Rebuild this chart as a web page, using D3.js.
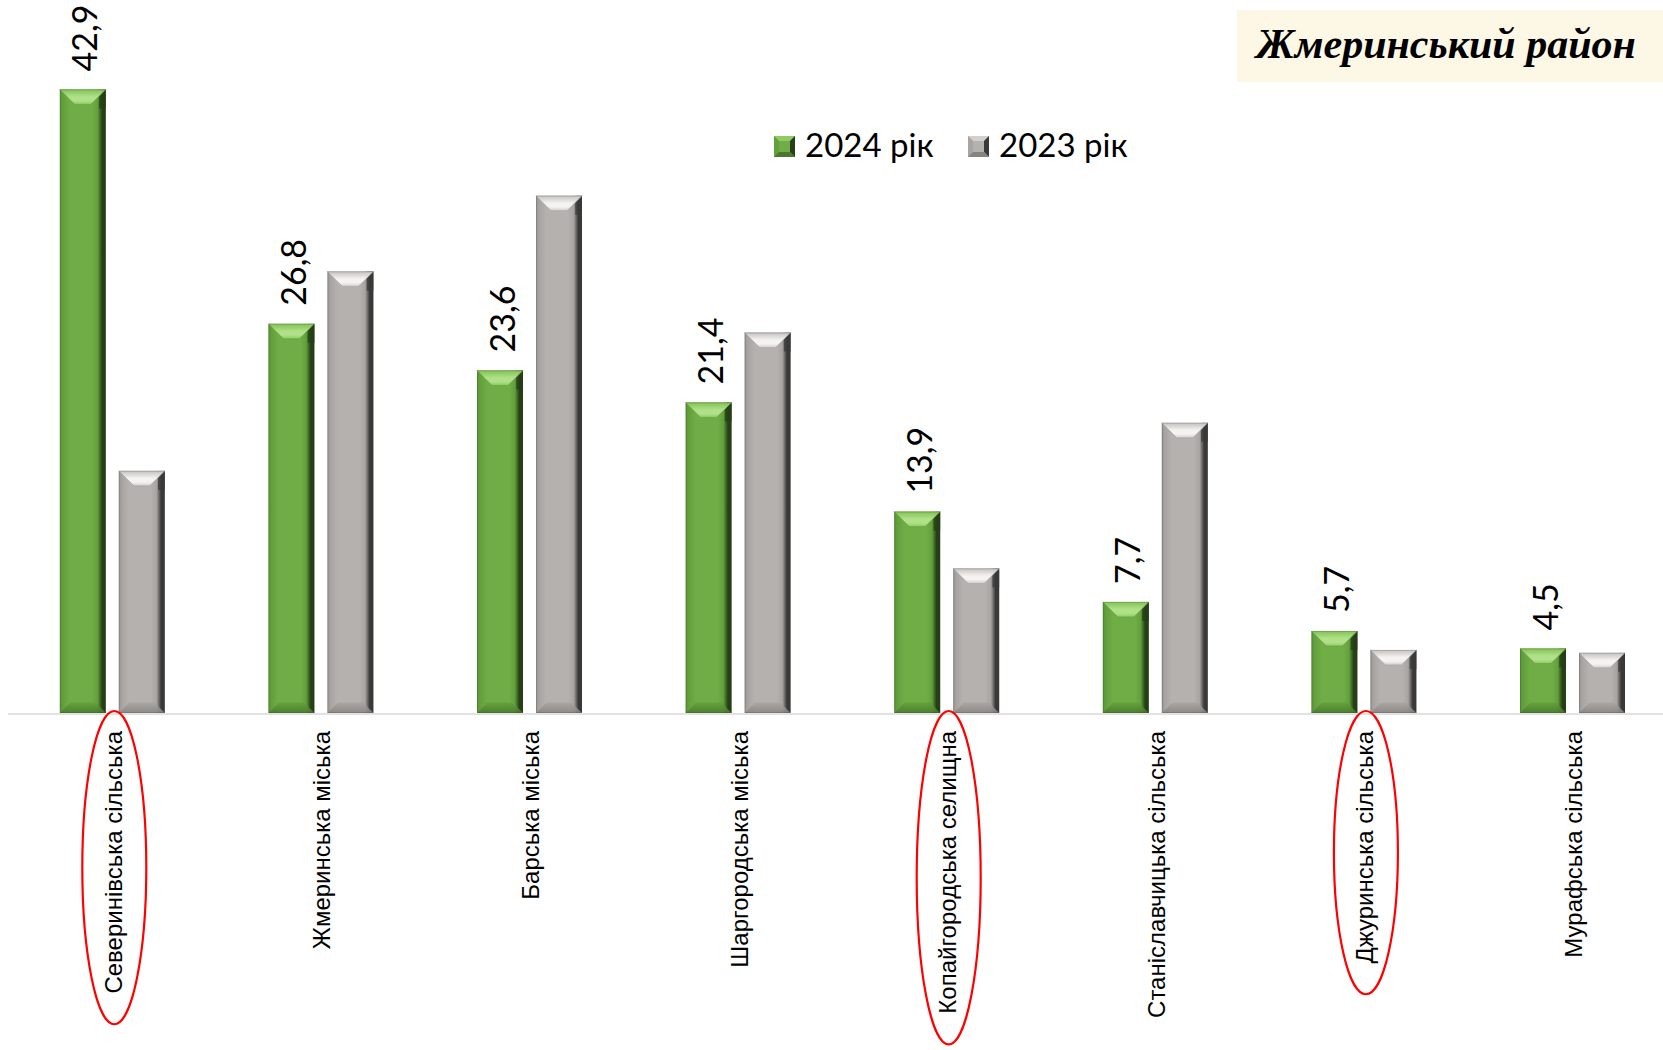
<!DOCTYPE html>
<html lang="uk">
<head>
<meta charset="utf-8">
<title>Жмеринський район</title>
<script src="https://cdn.jsdelivr.net/npm/d3@7"></script>
<style>
  html, body { margin: 0; padding: 0; background: #ffffff; }
  svg { display: block; }
</style>
</head>
<body>
<div id="chart"></div>
<script>
// Громади Жмеринського району
const categories = [
  "Северинівська сільська",
  "Жмеринська міська",
  "Барська міська",
  "Шаргородська міська",
  "Копайгородська селищна",
  "Станіславчицька сільська",
  "Джуринська сільська",
  "Мурафська сільська"
];
const values2024 = [42.9, 26.8, 23.6, 21.4, 13.9, 7.7, 5.7, 4.5];
const values2023 = [16.7, 30.4, 35.6, 26.2, 10.0, 20.0, 4.4, 4.2];
const seriesNames = ["2024 рік", "2023 рік"];
const highlighted = ["Северинівська сільська", "Копайгородська селищна", "Джуринська сільська"];
const chartTitle = "Жмеринський район";

const W = 1663, H = 1050;
const baseY = 714;

const svg = d3.select("#chart").append("svg")
  .attr("width", W).attr("height", H)
  .attr("viewBox", `0 0 ${W} ${H}`);

svg.append("rect").attr("width", W).attr("height", H).attr("fill", "#ffffff");

// Scales
const step = 208.6;
const x0 = d3.scaleBand().domain(categories).range([8, 8 + step * categories.length]).padding(0);
const groupW = 105;
const x1 = d3.scaleBand().domain(seriesNames)
  .range([(step - groupW) / 2, (step + groupW) / 2])
  .paddingInner(0.22).paddingOuter(0);
const y = d3.scaleLinear().domain([0, 45]).range([baseY, baseY - 45 * 14.56]);

// Colour schemes for the bevelled bars
const palette = {
  "2024 рік": { id: "g", edgeL: "#5a9136", base: "#70ad47", edgeR: "#263f17", mid: "#62a03c",
                topA: "#82c056", topHi: "#b0e189", topB: "#8fcb64", bottom: "#4a772e" },
  "2023 рік": { id: "s", edgeL: "#989492", base: "#b5b1af", edgeR: "#3a3938", mid: "#a8a4a2",
                topA: "#c4c1bf", topHi: "#f4f3f2", topB: "#d2cfcd", bottom: "#878381" }
};

const defs = svg.append("defs");
Object.values(palette).forEach(p => {
  const face = defs.append("linearGradient").attr("id", "face-" + p.id)
    .attr("x1", 0).attr("y1", 0).attr("x2", 1).attr("y2", 0);
  [[0, p.edgeL], [0.07, p.mid], [0.22, p.base], [0.7, p.base], [0.82, p.mid], [0.92, p.edgeR], [1, p.edgeR]]
    .forEach(([o, c]) => face.append("stop").attr("offset", o).attr("stop-color", c));

  const top = defs.append("linearGradient").attr("id", "top-" + p.id)
    .attr("x1", 0).attr("y1", 0).attr("x2", 0).attr("y2", 1);
  [[0, p.topA], [0.5, p.topHi], [0.75, p.topHi], [1, p.topB]]
    .forEach(([o, c]) => top.append("stop").attr("offset", o).attr("stop-color", c));

  const bot = defs.append("linearGradient").attr("id", "bot-" + p.id)
    .attr("x1", 0).attr("y1", 0).attr("x2", 0).attr("y2", 1);
  [[0, p.mid], [1, p.bottom]]
    .forEach(([o, c]) => bot.append("stop").attr("offset", o).attr("stop-color", c));
});

// Axis line
svg.append("line")
  .attr("x1", 8).attr("x2", W).attr("y1", baseY).attr("y2", baseY)
  .attr("stroke", "#d9d9d9").attr("stroke-width", 1.5);

// Bars
const rows = categories.map((c, i) => ({
  cat: c,
  vals: [{ s: seriesNames[0], v: values2024[i] }, { s: seriesNames[1], v: values2023[i] }]
}));

function bevelBar(g, x, yTop, w, yBottom, p) {
  const h = yBottom - yTop;
  const b = Math.min(15, h / 3, w / 3);
  g.append("rect").attr("x", x).attr("y", yTop).attr("width", w).attr("height", h)
    .attr("fill", `url(#face-${p.id})`);
  // right upper corner shade
  g.append("polygon")
    .attr("points", [[x + w, yTop], [x + w - b * 0.45, yTop + b * 0.45], [x + w - b * 0.45, yTop + b + 4], [x + w, yTop + b + 4]].join(" "))
    .attr("fill", p.edgeR).attr("opacity", 0.75);
  // top bevel
  g.append("polygon")
    .attr("points", [[x, yTop], [x + w, yTop], [x + w - b, yTop + b], [x + b, yTop + b]].join(" "))
    .attr("fill", `url(#top-${p.id})`);
  // bevel diagonals
  g.append("path")
    .attr("d", `M${x},${yTop}L${x + b},${yTop + b}L${x + w - b},${yTop + b}L${x + w},${yTop}`)
    .attr("fill", "none").attr("stroke", p.mid).attr("stroke-width", 1).attr("stroke-opacity", 0.6);
  // bottom bevel
  g.append("polygon")
    .attr("points", [[x + b * 0.7, yBottom - b * 0.7], [x + w - b * 0.7, yBottom - b * 0.7], [x + w, yBottom], [x, yBottom]].join(" "))
    .attr("fill", `url(#bot-${p.id})`).attr("opacity", 0.85);
  // thin outline
  g.append("rect").attr("x", x + 0.5).attr("y", yTop + 0.5).attr("width", w - 1).attr("height", h - 1)
    .attr("fill", "none").attr("stroke", p.edgeR).attr("stroke-opacity", 0.2);
}

const groups = svg.append("g").selectAll("g.cat")
  .data(rows).join("g").attr("class", "cat")
  .attr("transform", d => `translate(${x0(d.cat)},0)`);

groups.each(function (d) {
  const g = d3.select(this);
  d.vals.forEach(e => {
    bevelBar(g.append("g"), x1(e.s), y(e.v), x1.bandwidth(), baseY - 1, palette[e.s]);
  });
});

// Value labels for 2024
const fmt = v => d3.format(".1f")(v).replace(".", ",");
groups.append("text")
  .attr("transform", d => `translate(${x1(seriesNames[0]) + x1.bandwidth() / 2 + 1},${y(d.vals[0].v) - 18}) rotate(-90)`)
  .attr("text-anchor", "start")
  .attr("dominant-baseline", "central")
  .attr("font-family", "Lato, 'Open Sans', sans-serif")
  .attr("font-size", 34)
  .attr("fill", "#000")
  .text(d => fmt(d.vals[0].v));

// Category labels
const labelTop = 731;
const catLabels = svg.append("g").selectAll("text")
  .data(categories).join("text")
  .attr("transform", d => `translate(${x0(d) + x0.bandwidth() / 2 + 1},${labelTop}) rotate(-90)`)
  .attr("text-anchor", "end")
  .attr("dominant-baseline", "central")
  .attr("font-family", "'Liberation Sans', Arial, sans-serif")
  .attr("font-size", 24)
  .attr("fill", "#000")
  .text(d => d);

// Red ellipses round the highlighted communities
catLabels.filter(d => highlighted.includes(d)).each(function (d) {
  const len = this.getBBox().width;
  svg.append("ellipse")
    .attr("cx", x0(d) + x0.bandwidth() / 2 + 2)
    .attr("cy", labelTop + len / 2 + 5)
    .attr("rx", 32)
    .attr("ry", len / 2 + 25)
    .attr("fill", "none")
    .attr("stroke", "#ff0000")
    .attr("stroke-width", 2.2);
});

// Legend
const legendItems = [
  { s: seriesNames[0], x: 774 },
  { s: seriesNames[1], x: 968 }
];
const legend = svg.append("g");
legendItems.forEach(it => {
  const p = palette[it.s];
  const s = 21, b = 5, lx = it.x, ly = 136;
  const g = legend.append("g");
  g.append("rect").attr("x", lx).attr("y", ly).attr("width", s).attr("height", s).attr("fill", p.base);
  g.append("polygon").attr("points", [[lx, ly], [lx + s, ly], [lx + s - b, ly + b], [lx + b, ly + b]].join(" ")).attr("fill", p.topB);
  g.append("polygon").attr("points", [[lx, ly], [lx + b, ly + b], [lx + b, ly + s - b], [lx, ly + s]].join(" ")).attr("fill", p.mid);
  g.append("polygon").attr("points", [[lx + s, ly], [lx + s, ly + s], [lx + s - b, ly + s - b], [lx + s - b, ly + b]].join(" ")).attr("fill", p.edgeR);
  g.append("polygon").attr("points", [[lx, ly + s], [lx + s, ly + s], [lx + s - b, ly + s - b], [lx + b, ly + s - b]].join(" ")).attr("fill", p.bottom);
  g.append("text")
    .attr("x", lx + s + 10).attr("y", 157)
    .attr("font-family", "Lato, 'Open Sans', sans-serif")
    .attr("font-size", 33)
    .attr("fill", "#000")
    .text(it.s);
});

// Title box
svg.append("rect")
  .attr("x", 1237).attr("y", 10).attr("width", W - 1237).attr("height", 72)
  .attr("fill", "#fdf7e5");
svg.append("text")
  .attr("x", 1446).attr("y", 58)
  .attr("text-anchor", "middle")
  .attr("font-family", "'Liberation Serif', 'Times New Roman', serif")
  .attr("font-weight", "bold")
  .attr("font-style", "italic")
  .attr("font-size", 42)
  .attr("fill", "#000")
  .text(chartTitle);
</script>
</body>
</html>
